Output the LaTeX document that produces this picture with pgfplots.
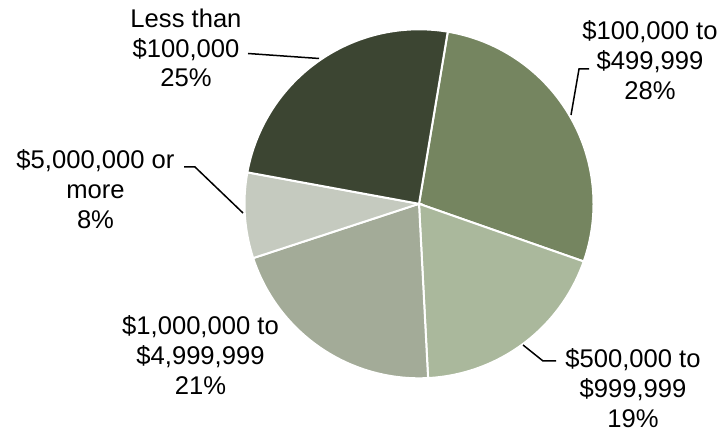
\documentclass[border=0pt]{standalone}
\usepackage{pgfplots}
\pgfplotsset{compat=1.18}
\usepackage{fontspec}
\setmainfont{Liberation Sans}
\definecolor{cA}{HTML}{3C4532}
\definecolor{cB}{HTML}{758560}
\definecolor{cC}{HTML}{AAB89C}
\definecolor{cD}{HTML}{A3AB98}
\definecolor{cE}{HTML}{C5CABF}
% shares (percent), clockwise from the top
\def\pB{28}\def\pC{19}\def\pD{21}\def\pE{8}\def\pA{25}
\pgfmathsetmacro\tot{\pA+\pB+\pC+\pD+\pE}
\pgfmathsetmacro\sB{80.5}
\pgfmathsetmacro\sC{\sB-\pB/\tot*360}
\pgfmathsetmacro\sD{\sC-\pC/\tot*360}
\pgfmathsetmacro\sE{\sD-\pD/\tot*360}
\pgfmathsetmacro\sA{\sE-\pE/\tot*360}
\pgfmathsetmacro\eA{\sA-\pA/\tot*360}
\def\cx{419}\def\cy{203.8}\def\rr{174.5}
\tikzset{lbl/.style={font=\fontsize{12.8}{14.9}\selectfont, align=center, text=black, inner sep=0pt}}
\begin{document}
\begin{tikzpicture}
\begin{axis}[
  scale only axis, width=363pt, height=215.5pt,
  xmin=0, xmax=726, ymin=0, ymax=431, y dir=reverse,
  hide axis, clip=false,
]
\addplot[fill=cB, draw=white, line width=1pt, domain=\sC:\sB, samples=90, variable=\t]
  ({\cx+\rr*cos(\t)},{\cy-\rr*sin(\t)}) -- (axis cs:\cx,\cy) -- cycle;
\addplot[fill=cC, draw=white, line width=1pt, domain=\sD:\sC, samples=90, variable=\t]
  ({\cx+\rr*cos(\t)},{\cy-\rr*sin(\t)}) -- (axis cs:\cx,\cy) -- cycle;
\addplot[fill=cD, draw=white, line width=1pt, domain=\sE:\sD, samples=90, variable=\t]
  ({\cx+\rr*cos(\t)},{\cy-\rr*sin(\t)}) -- (axis cs:\cx,\cy) -- cycle;
\addplot[fill=cE, draw=white, line width=1pt, domain=\sA:\sE, samples=90, variable=\t]
  ({\cx+\rr*cos(\t)},{\cy-\rr*sin(\t)}) -- (axis cs:\cx,\cy) -- cycle;
\addplot[fill=cA, draw=white, line width=1pt, domain=\eA:\sA, samples=90, variable=\t]
  ({\cx+\rr*cos(\t)},{\cy-\rr*sin(\t)}) -- (axis cs:\cx,\cy) -- cycle;
% leader lines
\addplot[black, line width=0.75pt] coordinates {(248,53.5) (319,58.5)};
\addplot[black, line width=0.75pt] coordinates {(184,167) (195,167) (243,213)};
\addplot[black, line width=0.75pt] coordinates {(589,69) (579,69) (571,115)};
\addplot[black, line width=0.75pt] coordinates {(523,345) (543,361) (556,361)};
% labels
\node[lbl] at (axis cs:186,48) {Less than\\\$100,000\\25\%};
\node[lbl] at (axis cs:650,60) {\$100,000 to\\\$499,999\\28\%};
\node[lbl] at (axis cs:633,388) {\$500,000 to\\\$999,999\\19\%};
\node[lbl] at (axis cs:200.5,355) {\$1,000,000 to\\\$4,999,999\\21\%};
\node[lbl] at (axis cs:95.5,189) {\$5,000,000 or\\more\\8\%};
\end{axis}
\pgfresetboundingbox
\path[use as bounding box] (current axis.south west) rectangle (current axis.north east);
\end{tikzpicture}
\end{document}
